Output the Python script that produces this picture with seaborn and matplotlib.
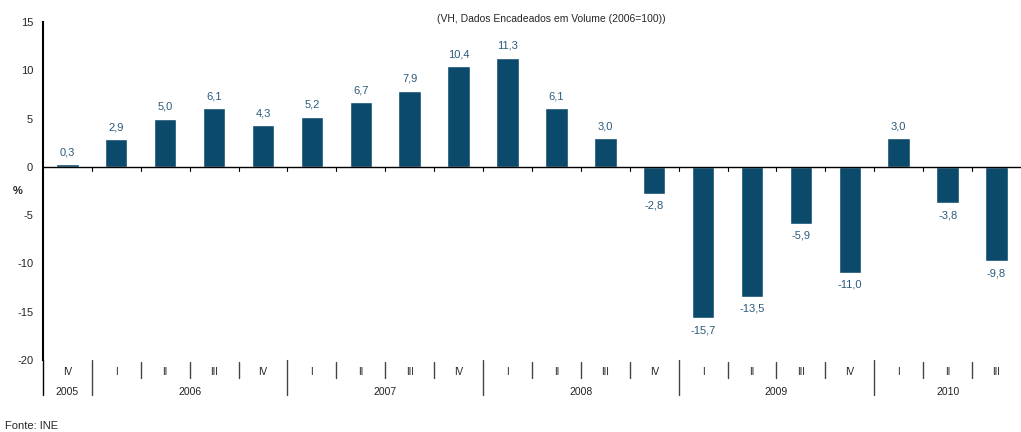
import numpy as np
import pandas as pd
import matplotlib
matplotlib.use('Agg')
import matplotlib.pyplot as plt
import matplotlib.transforms as mtransforms
import seaborn as sns

# data
quarters = ['IV', 'I', 'II', 'III', 'IV', 'I', 'II', 'III', 'IV', 'I', 'II', 'III', 'IV',
            'I', 'II', 'III', 'IV', 'I', 'II', 'III']
years = [2005, 2006, 2006, 2006, 2006, 2007, 2007, 2007, 2007, 2008, 2008, 2008, 2008,
         2009, 2009, 2009, 2009, 2010, 2010, 2010]
values = [0.3, 2.9, 5.0, 6.1, 4.3, 5.2, 6.7, 7.9, 10.4, 11.3, 6.1, 3.0, -2.8,
          -15.7, -13.5, -5.9, -11.0, 3.0, -3.8, -9.8]

df = pd.DataFrame({'Trimestre': quarters, 'Ano': years, 'VH': values})
df['cat'] = df['Ano'].astype(str) + ' ' + df['Trimestre']

bar_color = '#0b4a6a'
label_color = '#2a5a7a'

sns.set_style('white')
plt.rcParams['font.family'] = ['Liberation Sans', 'DejaVu Sans']

fig = plt.figure(figsize=(10.21, 4.32), dpi=100)
ax = fig.add_axes([0.042, 0.167, 0.958, 0.782])

sns.barplot(data=df, x='cat', y='VH', color=bar_color, width=0.46, ax=ax, saturation=1)

ax.set_ylim(-20, 15)
ax.set_xlim(-0.5, len(df) - 0.5)
ax.set_yticks(np.arange(-20, 16, 5))
ax.set_yticklabels([str(v) for v in range(-20, 16, 5)], fontsize=8)
ax.tick_params(axis='y', direction='out', length=4, width=0.8, color='black', pad=3)
ax.set_xticks([])
ax.set_xlabel('')
ax.set_ylabel('')
for s in ['top', 'right', 'bottom']:
    ax.spines[s].set_visible(False)
ax.spines['left'].set_color('black')
ax.spines['left'].set_linewidth(1.5)

# zero line with small ticks at boundaries
ax.axhline(0, color='black', lw=1, zorder=3)
for b in np.arange(0.5, len(df) - 0.5, 1):
    ax.plot([b, b], [0, -0.4], color='black', lw=0.8, zorder=3)

# value labels
for i, v in enumerate(df['VH']):
    txt = f'{v:.1f}'.replace('.', ',')
    if v >= 0:
        ax.text(i, v + 0.7, txt, ha='center', va='bottom', fontsize=8, color=label_color)
    else:
        ax.text(i, v - 0.7, txt, ha='center', va='top', fontsize=8, color=label_color)

# category axis below
trans = mtransforms.blended_transform_factory(ax.transData, ax.transAxes)
ax.plot([-0.5, -0.5], [0, -0.104], transform=trans, color='black', lw=1, clip_on=False)
for i in range(len(df)):
    ax.text(i, -0.036, df['Trimestre'][i], transform=trans, ha='center', va='center',
            fontsize=7, color='#222222')
for i in range(1, len(df)):
    if df['Ano'][i] != df['Ano'][i - 1]:
        ax.plot([i - 0.5, i - 0.5], [0, -0.104], transform=trans, color='#444444', lw=1, clip_on=False)
    else:
        ax.plot([i - 0.5, i - 0.5], [-0.005, -0.053], transform=trans, color='#444444', lw=1, clip_on=False)

for yr, grp in df.groupby('Ano'):
    idx = grp.index.values
    ax.text((idx.min() + idx.max()) / 2, -0.095, str(yr), transform=trans, ha='center',
            va='center', fontsize=7.5, color='#222222')

ax.text(-0.026, 0.5, '%', transform=ax.transAxes, ha='center', va='center', fontsize=8, fontweight='bold')
fig.text(0.54, 0.955, '(VH, Dados Encadeados em Volume (2006=100))', ha='center', va='center', fontsize=7.5)
fig.text(0.005, 0.003, 'Fonte: INE', ha='left', va='bottom', fontsize=8)

fig.savefig('out.png', dpi=100)
